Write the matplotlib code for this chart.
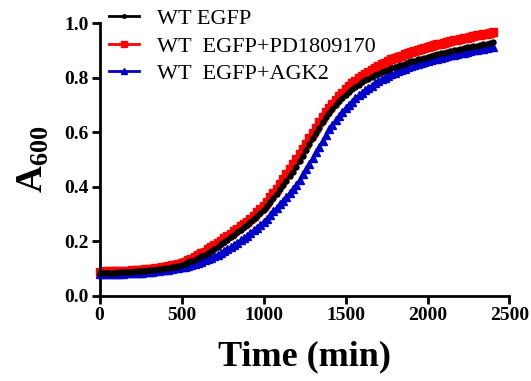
import numpy as np
import matplotlib
matplotlib.use("Agg")
import matplotlib.pyplot as plt

plt.rcParams['font.family'] = ['Liberation Serif', 'DejaVu Serif']
plt.rcParams['mathtext.fontset'] = 'custom'
plt.rcParams['mathtext.rm'] = 'Liberation Serif'
plt.rcParams['mathtext.bf'] = 'Liberation Serif:bold'

# Sampling times (min)
time_min = np.arange(0, 2401, 20)

labels = ["WT EGFP", "WT  EGFP+PD1809170", "WT  EGFP+AGK2"]

wt_egfp = [
    0.083, 0.083, 0.084, 0.084, 0.085, 0.085, 0.086, 0.086, 0.087, 0.087,
    0.088, 0.089, 0.090, 0.091, 0.092, 0.093, 0.094, 0.096, 0.097, 0.099,
    0.101, 0.103, 0.105, 0.107, 0.110, 0.113, 0.117, 0.122, 0.127, 0.132,
    0.137, 0.144, 0.151, 0.158, 0.165, 0.172, 0.180, 0.189, 0.197, 0.206,
    0.215, 0.224, 0.233, 0.242, 0.251, 0.260, 0.270, 0.281, 0.292, 0.303,
    0.315, 0.329, 0.344, 0.359, 0.374, 0.390, 0.406, 0.422, 0.439, 0.455,
    0.472, 0.493, 0.514, 0.535, 0.557, 0.578, 0.598, 0.617, 0.636, 0.654,
    0.672, 0.686, 0.700, 0.713, 0.725, 0.737, 0.747, 0.757, 0.766, 0.775,
    0.783, 0.790, 0.797, 0.803, 0.809, 0.815, 0.820, 0.825, 0.830, 0.835,
    0.840, 0.844, 0.848, 0.852, 0.856, 0.860, 0.863, 0.867, 0.870, 0.874,
    0.877, 0.880, 0.883, 0.886, 0.889, 0.892, 0.895, 0.898, 0.901, 0.903,
    0.906, 0.908, 0.911, 0.913, 0.916, 0.918, 0.920, 0.923, 0.925, 0.928,
    0.930,
]

wt_egfp_pd = [
    0.088, 0.088, 0.089, 0.089, 0.090, 0.090, 0.091, 0.091, 0.092, 0.092,
    0.093, 0.094, 0.095, 0.096, 0.097, 0.098, 0.099, 0.101, 0.102, 0.104,
    0.106, 0.108, 0.111, 0.114, 0.117, 0.120, 0.125, 0.130, 0.136, 0.142,
    0.148, 0.155, 0.162, 0.170, 0.177, 0.185, 0.194, 0.202, 0.211, 0.219,
    0.228, 0.237, 0.246, 0.254, 0.263, 0.272, 0.283, 0.294, 0.306, 0.318,
    0.330, 0.345, 0.361, 0.377, 0.393, 0.410, 0.428, 0.446, 0.464, 0.482,
    0.500, 0.520, 0.539, 0.558, 0.578, 0.597, 0.617, 0.636, 0.655, 0.673,
    0.690, 0.705, 0.719, 0.732, 0.745, 0.757, 0.768, 0.779, 0.789, 0.798,
    0.807, 0.815, 0.822, 0.829, 0.836, 0.843, 0.849, 0.855, 0.861, 0.867,
    0.872, 0.877, 0.881, 0.886, 0.890, 0.894, 0.898, 0.902, 0.905, 0.909,
    0.912, 0.915, 0.919, 0.922, 0.925, 0.928, 0.931, 0.934, 0.937, 0.939,
    0.942, 0.945, 0.947, 0.950, 0.952, 0.955, 0.957, 0.960, 0.962, 0.965,
    0.967,
]

wt_egfp_agk2 = [
    0.078, 0.078, 0.079, 0.079, 0.080, 0.080, 0.081, 0.081, 0.082, 0.082,
    0.083, 0.084, 0.085, 0.085, 0.086, 0.087, 0.088, 0.090, 0.091, 0.093,
    0.094, 0.096, 0.098, 0.100, 0.102, 0.104, 0.107, 0.110, 0.113, 0.117,
    0.120, 0.125, 0.130, 0.135, 0.140, 0.145, 0.151, 0.158, 0.164, 0.171,
    0.178, 0.186, 0.194, 0.203, 0.211, 0.220, 0.230, 0.240, 0.250, 0.260,
    0.270, 0.283, 0.296, 0.309, 0.322, 0.335, 0.349, 0.363, 0.377, 0.391,
    0.405, 0.425, 0.445, 0.465, 0.485, 0.505, 0.526, 0.547, 0.568, 0.589,
    0.610, 0.627, 0.643, 0.659, 0.674, 0.688, 0.700, 0.712, 0.724, 0.735,
    0.745, 0.754, 0.763, 0.771, 0.779, 0.787, 0.794, 0.800, 0.806, 0.812,
    0.818, 0.823, 0.828, 0.833, 0.838, 0.842, 0.846, 0.850, 0.854, 0.857,
    0.861, 0.864, 0.867, 0.870, 0.873, 0.876, 0.879, 0.882, 0.885, 0.887,
    0.890, 0.892, 0.895, 0.897, 0.900, 0.902, 0.904, 0.907, 0.909, 0.912,
    0.914,
]

x_ticks = [0, 500, 1000, 1500, 2000, 2500]
y_ticks = [0.0, 0.2, 0.4, 0.6, 0.8, 1.0]

fig = plt.figure(figsize=(5.31, 3.81), dpi=100)
ax = fig.add_axes([0.1875, 0.224, 0.772, 0.715])

h_black, = ax.plot(time_min, wt_egfp, color='black', lw=2.0, marker='o',
                   ms=3.6, mec='black', mfc='black', clip_on=False, zorder=4)
h_red, = ax.plot(time_min, wt_egfp_pd, color='#ff0000', lw=2.0, marker='s',
                 ms=5.6, mec='#ff0000', mfc='#ff0000', clip_on=False, zorder=2)
h_blue, = ax.plot(time_min, wt_egfp_agk2, color='#0000c8', lw=2.0, marker='^',
                  ms=5.2, mec='#0000c8', mfc='#0000c8', clip_on=False, zorder=3)

ax.set_xlim(0, 2500)
ax.set_ylim(0, 1.0)
ax.set_xticks(x_ticks)
ax.set_xticklabels([str(v) for v in x_ticks])
ax.set_yticks(y_ticks)
ax.set_yticklabels([f"{v:.1f}" for v in y_ticks])

for side in ('top', 'right'):
    ax.spines[side].set_visible(False)
for side in ('left', 'bottom'):
    ax.spines[side].set_linewidth(2.0)
ax.tick_params(direction='out', length=6, width=2.0, pad=2)
for lab in ax.get_xticklabels() + ax.get_yticklabels():
    lab.set_fontweight('bold')
    lab.set_fontsize(14)

ax.set_xlabel('Time (min)', fontsize=26, fontweight='bold', labelpad=12)
ax.set_ylabel(r'$\mathbf{A}_{\mathbf{600}}$', fontsize=27, labelpad=9)

leg = fig.legend([h_black, h_red, h_blue], labels, loc='upper left',
                 bbox_to_anchor=(0.205, 0.978), frameon=False, fontsize=16,
                 handlelength=1.35, handletextpad=0.8, labelspacing=0.32,
                 borderpad=0, borderaxespad=0, markerscale=0.7)

fig.savefig('out.png', dpi=100)
